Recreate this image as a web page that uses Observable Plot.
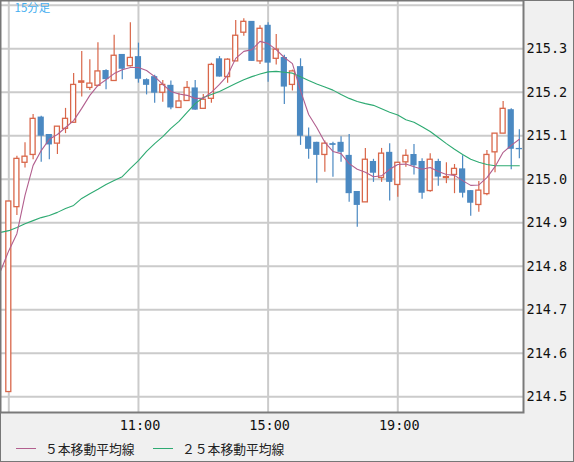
<!DOCTYPE html>
<html><head><meta charset="utf-8">
<script src="https://cdn.jsdelivr.net/npm/d3@7"></script>
<script src="https://cdn.jsdelivr.net/npm/@observablehq/plot@0.6"></script>
<style>
html,body{margin:0;padding:0;background:#f0f0f0;}
#wrap{position:relative;width:574px;height:462px;background:#f0f0f0;overflow:hidden;}
#chart{position:absolute;left:0;top:0;}
#border{position:absolute;left:0;top:0;width:574px;height:462px;box-sizing:border-box;border:1px solid #777;pointer-events:none;}
#legend{position:absolute;left:0;top:438px;height:20px;width:574px;font-family:"Noto Sans CJK JP";font-size:12.8px;color:#222;}
.item{position:absolute;top:0;height:20px;display:flex;align-items:center;white-space:nowrap;}
.swatch{display:inline-block;width:20px;height:0;border-top:1px solid;margin-right:9px;}
</style></head>
<body>
<div id="wrap">
  <div id="chart"></div>
  <div id="legend"></div>
  <div id="border"></div>
</div>
<script>
// ---- data (15-minute candles) ----
const maTime = ["06:45","07:00","07:15","07:30","07:45","08:00","08:15","08:30","08:45","09:00","09:15","09:30","09:45","10:00","10:15","10:30","10:45","11:00","11:15","11:30","11:45","12:00","12:15","12:30","12:45","13:00","13:15","13:30","13:45","14:00","14:15","14:30","14:45","15:00","15:15","15:30","15:45","16:00","16:15","16:30","16:45","17:00","17:15","17:30","17:45","18:00","18:15","18:30","18:45","19:00","19:15","19:30","19:45","20:00","20:15","20:30","20:45","21:00","21:15","21:30","21:45","22:00","22:15","22:30","22:45"];
const candleTime = maTime.slice(1);

const open = [214.511,214.936,215.038,215.056,215.143,215.103,215.082,215.116,215.130,215.222,215.210,215.215,215.250,215.226,215.287,215.260,215.282,215.229,215.236,215.199,215.216,215.164,215.180,215.210,215.162,215.185,215.277,215.235,215.271,215.337,215.363,215.271,215.354,215.277,215.280,215.217,215.259,215.098,215.085,215.056,215.082,215.085,215.055,214.972,214.947,215.041,215.003,215.062,214.987,215.039,215.057,215.041,214.973,215.041,215.003,215.010,215.024,214.974,214.941,214.966,215.062,215.105,215.160,215.071];
const high = [214.949,215.053,215.084,215.149,215.145,215.103,215.121,215.163,215.243,215.294,215.275,215.314,215.252,215.331,215.287,215.360,215.313,215.231,215.239,215.227,215.226,215.198,215.225,215.227,215.195,215.267,215.282,215.277,215.365,215.369,215.363,215.353,215.360,215.333,215.285,215.251,215.277,215.118,215.085,215.088,215.085,215.098,215.103,214.972,215.071,215.046,215.071,215.082,215.038,215.068,215.080,215.047,215.059,215.046,215.038,215.034,215.054,214.974,214.995,215.066,215.105,215.179,215.162,215.114];
const low = [214.511,214.917,215.026,215.045,215.039,215.045,215.057,215.105,215.129,215.189,215.204,215.213,215.206,215.226,215.229,215.258,215.221,215.194,215.175,215.177,215.160,215.164,215.180,215.159,215.162,215.175,215.235,215.221,215.271,215.329,215.271,215.264,215.223,215.263,215.172,215.203,215.078,215.046,214.991,215.016,215.005,215.039,214.947,214.890,214.947,214.993,214.993,214.950,214.959,215.028,215.010,214.954,214.970,214.984,214.990,214.967,214.957,214.915,214.924,214.962,215.015,215.105,215.022,215.047];
const close = [214.949,215.047,215.052,215.139,215.099,215.079,215.121,215.139,215.217,215.225,215.220,215.248,215.229,215.284,215.253,215.279,215.230,215.216,215.198,215.217,215.164,215.179,215.210,215.159,215.183,215.263,215.235,215.275,215.330,215.362,215.271,215.346,215.267,215.298,215.212,215.248,215.099,215.069,215.055,215.082,215.078,215.062,214.967,214.940,215.045,215.014,215.059,214.993,215.038,215.054,215.031,214.968,215.045,215.005,215.005,215.024,214.968,214.945,214.974,215.056,215.105,215.162,215.069,215.068];

const ma5 = [214.790,214.836,214.875,214.963,215.032,215.066,215.092,215.103,215.119,215.135,215.163,215.193,215.216,215.229,215.243,215.252,215.257,215.257,215.250,215.236,215.218,215.202,215.196,215.193,215.186,215.186,215.200,215.218,215.239,215.278,215.294,215.298,215.317,215.312,215.298,215.280,215.266,215.204,215.149,215.119,215.085,215.064,215.059,215.036,215.023,215.016,215.006,215.008,215.023,215.034,215.035,215.029,215.023,215.027,215.018,215.011,215.009,214.997,214.986,214.987,215.004,215.029,215.062,215.078,215.092];
const ma25 = [214.878,214.882,214.889,214.898,214.905,214.912,214.917,214.924,214.933,214.940,214.956,214.967,214.977,214.988,214.997,215.006,215.025,215.043,215.064,215.082,215.098,215.117,215.133,215.154,215.174,215.188,215.195,215.202,215.211,215.220,215.229,215.236,215.242,215.247,215.248,215.246,215.244,215.236,215.227,215.219,215.212,215.205,215.195,215.186,215.179,215.174,215.170,215.162,215.154,215.148,215.137,215.131,215.121,215.110,215.096,215.082,215.069,215.057,215.046,215.039,215.034,215.031,215.031,215.031,215.031];

const yTicks = [214.5,214.6,214.7,214.8,214.9,215.0,215.1,215.2,215.3];
const yGrid = [214.5,214.6,214.7,214.8,214.9,215.0,215.1,215.2,215.3,215.4];
const xTickLabels = ["11:00","15:00","19:00"];
const xGridTimes = ["07:00","11:00","15:00","19:00"];
const periodLabel = "15分足";
const seriesNames = ["５本移動平均線","２５本移動平均線"];

// ---- colours ----
const UP = "#d9674a", DOWN = "#4b89c2", MA5C = "#b25f8e", MA25C = "#2eaa72", GRID = "#cbcbcb";

const parse = s => new Date(`2024-01-01T${s}:00Z`);
const candles = open.map((o, i) => ({t: parse(candleTime[i]), o, h: high[i], l: low[i], c: close[i]}));
const ups = candles.filter(d => d.c >= d.o);
const downs = candles.filter(d => d.c < d.o);
const maRows = maTime.map((s, i) => ({t: parse(s), ma5: ma5[i], ma25: ma25[i]}));

const PX = 8.104;                       // pixels per 15-minute bar
const msPerPx = 15 * 60000 / PX;
const hwUp = 2.5 * msPerPx, hwDown = 3.1 * msPerPx;

const chart = Plot.plot({
  width: 574, height: 436,
  marginLeft: 0, marginTop: 0, marginRight: 51, marginBottom: 24,
  style: {background: "transparent", fontFamily: "DejaVu Sans Mono", fontSize: "13.5px", color: "#111", overflow: "visible"},
  x: {type: "utc", domain: [new Date("2024-01-01T06:44:38Z"), new Date("2024-01-01T22:52:42Z")], label: null},
  y: {domain: [214.464, 215.411], label: null},
  marks: [
    Plot.frame({fill: "white", stroke: "none"}),
    Plot.gridY(yGrid, {stroke: GRID, strokeOpacity: 1, strokeWidth: 2}),
    Plot.gridX(xGridTimes.map(parse), {stroke: GRID, strokeOpacity: 1, strokeWidth: 2}),
    Plot.ruleX(ups, {x: "t", y1: "l", y2: "h", stroke: UP, strokeWidth: 1.2}),
    Plot.ruleX(downs, {x: "t", y1: "l", y2: "h", stroke: DOWN, strokeWidth: 1.2}),
    Plot.rect(ups, {x1: d => new Date(+d.t - hwUp), x2: d => new Date(+d.t + hwUp), y1: "o", y2: "c", fill: "white", stroke: UP, strokeWidth: 1.3}),
    Plot.rect(downs, {x1: d => new Date(+d.t - hwDown), x2: d => new Date(+d.t + hwDown), y1: "o", y2: "c", fill: DOWN}),
    Plot.line(maRows, {x: "t", y: "ma25", stroke: MA25C, strokeWidth: 1.1, clip: true}),
    Plot.line(maRows, {x: "t", y: "ma5", stroke: MA5C, strokeWidth: 1.1, clip: true}),
    Plot.frame({stroke: "#7a7a7a", strokeWidth: 2}),
    Plot.axisY(yTicks, {anchor: "right", tickSize: 0, tickPadding: 3, tickFormat: d => d.toFixed(1), fill: "#111"}),
    Plot.axisX(xTickLabels.map(parse), {anchor: "bottom", tickSize: 0, tickPadding: 8, dx: 1.5, tickFormat: d3.utcFormat("%H:%M"), fill: "#111"}),
    Plot.text([periodLabel], {frameAnchor: "top-left", dx: 14, dy: 3, text: d => d, fill: "#45aef0", fontFamily: "Noto Sans CJK JP", fontSize: 11.5})
  ]
});
document.getElementById("chart").appendChild(chart);

// ---- legend ----
const legend = document.getElementById("legend");
[[16, MA5C, seriesNames[0]], [153, MA25C, seriesNames[1]]].forEach(([left, col, name]) => {
  const it = document.createElement("div");
  it.className = "item";
  it.style.left = left + "px";
  const sw = document.createElement("span");
  sw.className = "swatch";
  sw.style.borderTopColor = col;
  it.appendChild(sw);
  const tx = document.createElement("span");
  tx.textContent = name;
  it.appendChild(tx);
  legend.appendChild(it);
});
</script>
</body></html>
